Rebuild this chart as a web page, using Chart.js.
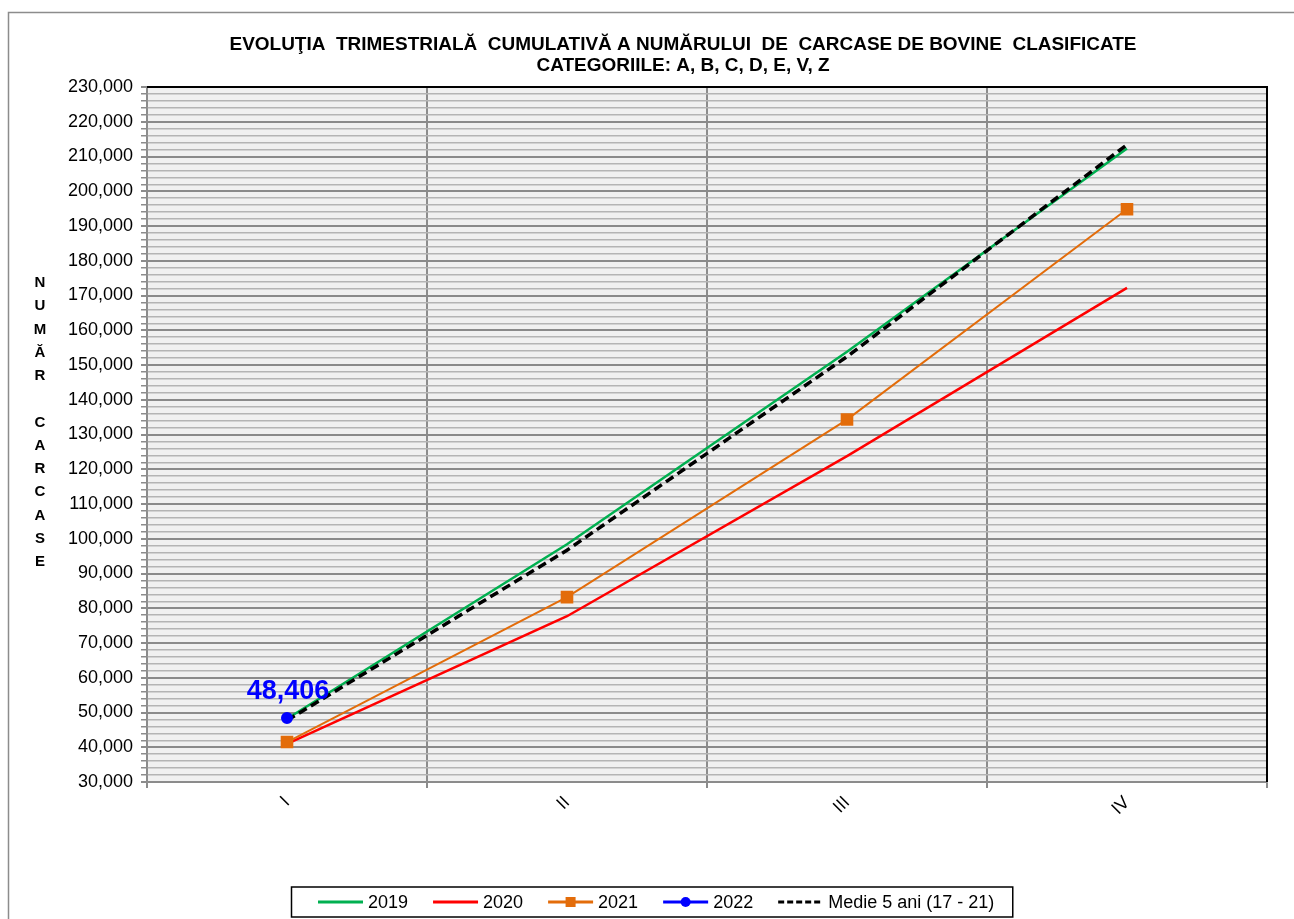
<!DOCTYPE html>
<html>
<head>
<meta charset="utf-8">
<title>Carcase bovine clasificate</title>
<script src="https://cdn.jsdelivr.net/npm/chart.js@4.4.1/dist/chart.umd.min.js"></script>
<style>
  html, body { margin: 0; padding: 0; background: #fff; }
  #wrap { width: 1294px; height: 919px; }
</style>
</head>
<body>
<div id="wrap"><canvas id="grafic" width="1294" height="919"></canvas></div>
<script>
// date (cumulat pe trimestre)
const trimestre = ['I', 'II', 'III', 'IV'];
const an2019 = [48200, 98400, 153800, 212300];
const an2020 = [41000, 77700, 123800, 172200];
const an2021 = [41500, 83200, 134300, 194800];
const an2022 = [48406, null, null, null];
const medie5ani = [47700, 96700, 152400, 213400];

const titluRanduri = [
    'EVOLUŢIA  TRIMESTRIALĂ  CUMULATIVĂ A NUMĂRULUI  DE  CARCASE DE BOVINE  CLASIFICATE',
    'CATEGORIILE: A, B, C, D, E, V, Z'
];
const titluAxaY = 'NUMĂR CARCASE';

const culori = {
    verde: '#00b050',
    rosu: '#ff0000',
    portocaliu: '#e36c0a',
    albastru: '#0000ff',
    negru: '#000000'
};

const fmt = v => v.toLocaleString('en-US');

// ===============================
// fundal, chenar, titluri
// ===============================
const fundal = {
    id: 'fundal',
    beforeDraw(chart) {
        const { ctx, chartArea: a } = chart;
        ctx.save();
        ctx.fillStyle = '#fff';
        ctx.fillRect(0, 0, chart.width, chart.height);
        ctx.strokeStyle = '#8c8c8c';
        ctx.lineWidth = 1.5;
        ctx.strokeRect(8.5, 12.5, chart.width + 20, chart.height + 20);
        ctx.fillStyle = '#f0f0f0';
        ctx.fillRect(a.left, a.top, a.right - a.left, a.bottom - a.top);
        ctx.restore();
    }
};

const decor = {
    id: 'decor',
    afterDraw(chart) {
        const { ctx, chartArea: a } = chart;
        ctx.save();

        // chenar sus / dreapta
        ctx.strokeStyle = '#000';
        ctx.lineWidth = 2;
        ctx.beginPath();
        ctx.moveTo(a.left, a.top);
        ctx.lineTo(a.right, a.top);
        ctx.lineTo(a.right, a.bottom);
        ctx.stroke();

        // titlu (font ingust, comprimat pe orizontala)
        ctx.fillStyle = '#000';
        ctx.font = 'bold 19px "Liberation Sans Narrow", "Liberation Sans", Arial, sans-serif';
        ctx.textAlign = 'center';
        ctx.textBaseline = 'middle';
        const w0 = ctx.measureText(titluRanduri[0]).width;
        const sx = 907 / w0;
        const cx = 683;
        [45, 66].forEach((y, i) => {
            ctx.save();
            ctx.translate(cx, y);
            ctx.scale(sx, 1);
            ctx.fillText(titluRanduri[i], 0, 0);
            ctx.restore();
        });

        // titlu axa Y, litere una sub alta
        ctx.font = 'bold 15px "Liberation Sans", Arial, sans-serif';
        const litere = titluAxaY.split('');
        const pas = 23.25;
        const cy = (a.top + a.bottom) / 2 - 12;
        const y0 = cy - pas * (litere.length - 1) / 2;
        litere.forEach((l, i) => ctx.fillText(l, 40, y0 + i * pas));

        // eticheta valoare 2022
        const meta = chart.getDatasetMeta(3);
        const p = meta.data[0];
        if (p) {
            ctx.font = 'bold 27px "Liberation Sans", Arial, sans-serif';
            ctx.fillStyle = culori.albastru;
            ctx.textBaseline = 'alphabetic';
            ctx.fillText(fmt(an2022[0]), p.x + 1, p.y - 19);
        }

        // legenda
        deseneazaLegenda(chart);
        ctx.restore();
    }
};

function deseneazaLegenda(chart) {
    const ctx = chart.ctx;
    const y = 902;
    const lungLinie = 45;
    ctx.font = '18px "Liberation Sans", Arial, sans-serif';
    ctx.textAlign = 'left';
    ctx.textBaseline = 'middle';

    let x = 318;
    const start = x;
    chart.data.datasets.forEach(ds => {
        ctx.save();
        ctx.strokeStyle = ds.borderColor;
        ctx.lineWidth = 3;
        ctx.setLineDash(ds.borderDash ? [6, 3] : []);
        ctx.beginPath();
        ctx.moveTo(x, y);
        ctx.lineTo(x + lungLinie, y);
        ctx.stroke();
        ctx.restore();
        if (ds.pointRadius > 0) {
            ctx.fillStyle = ds.pointBackgroundColor;
            const mx = x + lungLinie / 2;
            if (ds.pointStyle === 'rect') {
                ctx.fillRect(mx - 5, y - 5, 10, 10);
            } else {
                ctx.beginPath();
                ctx.arc(mx, y, 5, 0, Math.PI * 2);
                ctx.fill();
            }
        }
        ctx.fillStyle = '#000';
        ctx.fillText(ds.label, x + lungLinie + 5, y + 1);
        x += lungLinie + 5 + ctx.measureText(ds.label).width + 25;
    });
    const stanga = start - 27;
    const dreapta = x - 25 + 18;
    ctx.strokeStyle = '#000';
    ctx.lineWidth = 1.5;
    ctx.strokeRect(stanga + 0.5, 887, dreapta - stanga, 30);
}

// ===============================
// grafic
// ===============================
const ctxGrafic = document.getElementById('grafic').getContext('2d');

new Chart(ctxGrafic, {
    type: 'line',
    data: {
        labels: trimestre,
        datasets: [
            {
                label: '2019',
                data: an2019,
                borderColor: culori.verde,
                backgroundColor: culori.verde,
                borderWidth: 2.5,
                pointRadius: 0,
                order: 4
            },
            {
                label: '2020',
                data: an2020,
                borderColor: culori.rosu,
                backgroundColor: culori.rosu,
                borderWidth: 2.5,
                pointRadius: 0,
                order: 3
            },
            {
                label: '2021',
                data: an2021,
                borderColor: culori.portocaliu,
                backgroundColor: culori.portocaliu,
                pointBackgroundColor: culori.portocaliu,
                pointBorderColor: culori.portocaliu,
                borderWidth: 2,
                pointStyle: 'rect',
                pointRadius: 7.5,
                order: 2
            },
            {
                label: '2022',
                data: an2022,
                borderColor: culori.albastru,
                backgroundColor: culori.albastru,
                pointBackgroundColor: culori.albastru,
                pointBorderColor: culori.albastru,
                borderWidth: 2,
                pointStyle: 'circle',
                pointRadius: 5,
                order: 0
            },
            {
                label: 'Medie 5 ani (17 - 21)',
                data: medie5ani,
                borderColor: culori.negru,
                backgroundColor: culori.negru,
                borderWidth: 3.5,
                borderDash: [9, 5],
                pointRadius: 0,
                order: 1
            }
        ]
    },
    options: {
        responsive: false,
        animation: false,
        layout: { padding: { top: 87, left: 0, right: 27, bottom: 0 } },
        plugins: {
            legend: { display: false },
            title: { display: false },
            tooltip: { enabled: false }
        },
        elements: { line: { tension: 0 } },
        scales: {
            x: {
                offset: true,
                afterFit: s => { s.height = 137; },
                border: { color: '#8c8c8c', width: 1.5 },
                grid: {
                    offset: true,
                    color: '#8c8c8c',
                    lineWidth: 2,
                    tickLength: 6,
                    tickColor: '#8c8c8c'
                },
                ticks: {
                    color: '#000',
                    font: { family: '"Liberation Sans", Arial, sans-serif', size: 18 },
                    minRotation: 45,
                    maxRotation: 45,
                    padding: 4
                }
            },
            y: {
                min: 30000,
                max: 230000,
                afterFit: s => { s.width = 147; },
                border: { color: '#8c8c8c', width: 1.5 },
                grid: {
                    color: c => (c.tick && c.tick.value % 10000 === 0) ? '#8a8a8a' : '#b4b4b4',
                    lineWidth: c => (c.tick && c.tick.value % 10000 === 0) ? 2 : 1.5,
                    tickLength: 6,
                    tickColor: '#8c8c8c'
                },
                ticks: {
                    stepSize: 2000,
                    maxTicksLimit: 200,
                    autoSkip: false,
                    padding: 8,
                    color: '#000',
                    font: { family: '"Liberation Sans", Arial, sans-serif', size: 18 },
                    callback: v => (v % 10000 === 0) ? fmt(v) : ''
                }
            }
        }
    },
    plugins: [fundal, decor]
});
</script>
</body>
</html>
